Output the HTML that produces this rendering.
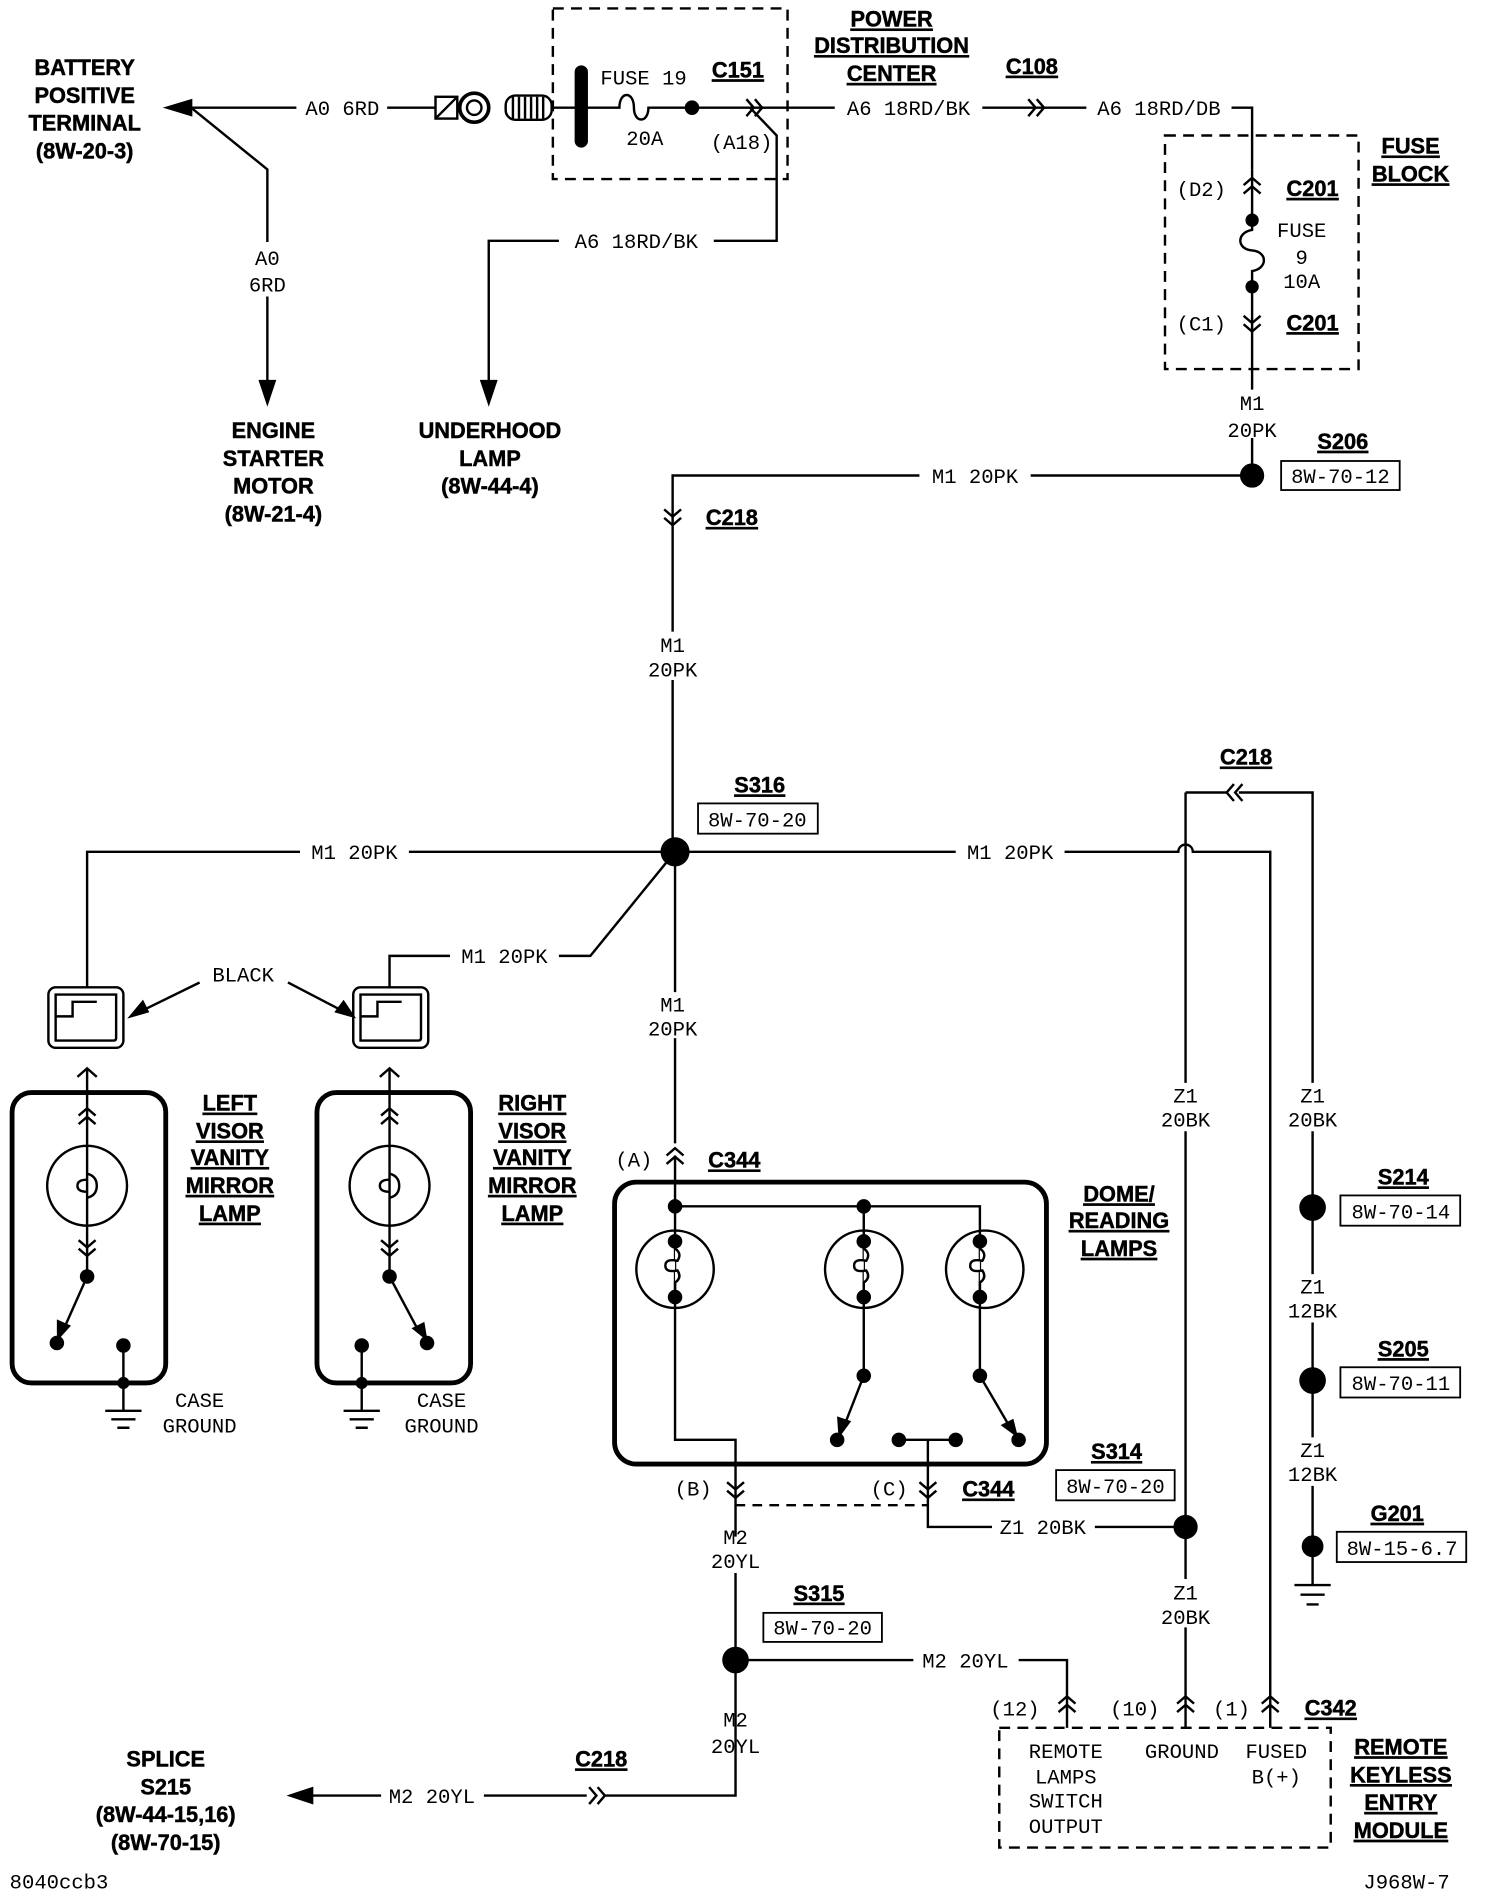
<!DOCTYPE html>
<html><head><meta charset="utf-8"><style>
html,body{margin:0;padding:0;background:#fff}
svg{display:block}
.t{font-family:"Liberation Mono",monospace;font-size:17px;fill:#000}
.b{font-family:"Liberation Sans",sans-serif;font-weight:bold;font-size:18px;fill:#000;text-decoration:underline;stroke:#000;stroke-width:0.4}
.bn{font-family:"Liberation Sans",sans-serif;font-weight:bold;font-size:18px;fill:#000;stroke:#000;stroke-width:0.4}
</style></head><body>
<svg width="1488" height="1896" viewBox="0 0 1230 1567" preserveAspectRatio="none" xmlns="http://www.w3.org/2000/svg">
<defs>
<path id="dn" d="M-7,-7 L0,-1 L7,-7 M-7,0 L0,6 L7,0" fill="none" stroke="#000" stroke-width="2"/>
<path id="up" d="M-7,7 L0,1 L7,7 M-7,0 L0,-6 L7,0" fill="none" stroke="#000" stroke-width="2"/>
<path id="rt" d="M-7,-7 L-1,0 L-7,7 M0,-7 L6,0 L0,7" fill="none" stroke="#000" stroke-width="2"/>
<path id="lt" d="M7,-7 L1,0 L7,7 M0,-7 L-6,0 L0,7" fill="none" stroke="#000" stroke-width="2"/>
</defs>
<g fill="none" stroke="#000" stroke-width="2">
<path d="M150,89 H245 M320,89 H360"/>
<polygon points="138,89 158,83 158,95" fill="#000"/>
<rect x="360" y="80" width="18" height="18"/>
<path d="M360,98 L378,80"/>
<circle cx="392" cy="89" r="12" stroke-width="3"/><circle cx="392" cy="89" r="6"/>
<rect x="418" y="79" width="38" height="20" rx="8"/>
<path d="M424,80V98 M429,80V98 M434,80V98 M439,80V98 M444,80V98 M449,80V98"/>
<path d="M456,89 H476"/>
<rect x="476" y="55" width="9" height="66" rx="4.5" fill="#000"/>
<path d="M485,89 H512 C512,75 524,75 524,89 C524,102 536,102 536,89 H690"/>
<circle cx="572" cy="89" r="5" fill="#000"/>
<use href="#rt" x="624" y="89"/>
<path d="M812,89 H898 M1018,89 H1035 V140"/>
<use href="#rt" x="857" y="89"/>
<rect x="457" y="7" width="194" height="141" stroke-dasharray="9,6"/>
<path d="M620,89 L642,112 V199 H590 M462,199 H404 V325"/>
<polygon points="404,333 398,315 410,315" fill="#000"/>
<path d="M158,89 L221,140 V200 M221,245 V325"/>
<polygon points="221,333 215,315 227,315" fill="#000"/>
<rect x="963" y="112" width="160" height="193" stroke-dasharray="9,6"/>
<path d="M1035,140 V190 C1022,192 1022,206 1035,207 C1048,208 1048,222 1035,224 V322 M1035,362 V393"/>
<use href="#up" x="1035" y="153"/>
<use href="#dn" x="1035" y="268"/>
<circle cx="1035" cy="182" r="4.5" fill="#000"/>
<circle cx="1035" cy="237" r="4.5" fill="#000"/>
<circle cx="1035" cy="393" r="9" fill="#000"/>
<rect x="1059" y="381" width="98" height="24" stroke-width="1.5"/>
<path d="M852,393 H1035 M760,393 H556 V522 M556,562 V704"/>
<use href="#dn" x="556" y="428"/>
<circle cx="558" cy="704" r="11" fill="#000"/>
<rect x="577" y="664" width="99" height="25" stroke-width="1.5"/>
<path d="M558,704 H338 M248,704 H72 V816"/>
<path d="M558,704 L488,790 H462 M372,790 H322 V816"/>
<path d="M558,704 H790 M880,704 H974 A6,6 0 0 1 986,704 H1050 V1400"/>
<path d="M558,704 V820 M558,858 V945"/>
<rect x="40" y="816" width="62" height="50" rx="6"/>
<path d="M46,822 H96 V858 Q96,860 94,860 H46 Z M46,840 H60 V828 H80"/>
<rect x="292" y="816" width="62" height="50" rx="6"/>
<path d="M298,822 H348 V858 Q348,860 346,860 H298 Z M298,840 H312 V828 H332"/>
<path d="M165,812 L112,838 M238,812 L288,838"/>
<polygon points="108,840 118,828 122,836" fill="#000"/>
<polygon points="292,840 278,836 284,828" fill="#000"/>
<rect x="10" y="903" width="127" height="240" rx="16" stroke-width="4"/>
<path d="M72,884 V1052"/>
<path d="M64,890 L72,883 L80,890"/>
<use href="#up" x="72" y="922"/>
<use href="#dn" x="72" y="1032"/>
<circle cx="72" cy="980" r="33"/>
<path d="M72,970 q8,2 8,10 q0,8 -8,10 M72,975 q-8,0 -8,5 q0,5 8,5" stroke-width="2"/>
<circle cx="72" cy="1055" r="5" fill="#000"/>
<path d="M72,1055 L52,1100"/><polygon points="48,1106 48,1092 57,1096" fill="#000"/>
<circle cx="47" cy="1110" r="5" fill="#000"/>
<circle cx="102" cy="1112" r="5" fill="#000"/>
<path d="M102,1112 V1166 M87,1166 H117 M92,1173 H112 M97,1180 H107"/>
<circle cx="102" cy="1143" r="4" fill="#000"/>
<rect x="262" y="903" width="127" height="240" rx="16" stroke-width="4"/>
<path d="M322,884 V1052"/>
<path d="M314,890 L322,883 L330,890"/>
<use href="#up" x="322" y="922"/>
<use href="#dn" x="322" y="1032"/>
<circle cx="322" cy="980" r="33"/>
<path d="M322,970 q8,2 8,10 q0,8 -8,10 M322,975 q-8,0 -8,5 q0,5 8,5"/>
<circle cx="322" cy="1055" r="5" fill="#000"/>
<path d="M322,1055 L346,1100"/><polygon points="352,1106 342,1098 350,1094" fill="#000"/>
<circle cx="353" cy="1110" r="5" fill="#000"/>
<circle cx="299" cy="1112" r="5" fill="#000"/>
<path d="M299,1112 V1166 M284,1166 H314 M289,1173 H309 M294,1180 H304"/>
<circle cx="299" cy="1143" r="4" fill="#000"/>
<use href="#up" x="558" y="955"/>
<rect x="508" y="977" width="357" height="233" rx="18" stroke-width="4"/>
<path d="M558,955 V1190 H608 V1270"/>
<path d="M558,997 H810 V1137"/>
<path d="M714,997 V1137"/>
<circle cx="558" cy="997" r="5" fill="#000"/><circle cx="714" cy="997" r="5" fill="#000"/>
<g>
<circle cx="558" cy="1049" r="32"/><circle cx="558" cy="1026" r="5" fill="#000"/><circle cx="558" cy="1072" r="5" fill="#000"/>
<path d="M558,1026 v6 q6,4 2,10 q-10,-2 -10,4 q0,6 10,4 q4,6 -2,10 v6" fill="#fff"/>
<circle cx="714" cy="1049" r="32"/><circle cx="714" cy="1026" r="5" fill="#000"/><circle cx="714" cy="1072" r="5" fill="#000"/>
<path d="M714,1026 v6 q6,4 2,10 q-10,-2 -10,4 q0,6 10,4 q4,6 -2,10 v6" fill="#fff"/>
<circle cx="814" cy="1049" r="32"/><circle cx="810" cy="1026" r="5" fill="#000"/><circle cx="810" cy="1072" r="5" fill="#000"/>
<path d="M810,1026 v6 q6,4 2,10 q-10,-2 -10,4 q0,6 10,4 q4,6 -2,10 v6" fill="#fff"/>
</g>
<circle cx="714" cy="1137" r="5" fill="#000"/><circle cx="810" cy="1137" r="5" fill="#000"/>
<path d="M714,1137 L698,1178"/><polygon points="694,1186 693,1172 702,1175" fill="#000"/>
<path d="M810,1137 L834,1178"/><polygon points="840,1186 829,1178 837,1174" fill="#000"/>
<circle cx="692" cy="1190" r="5" fill="#000"/><circle cx="842" cy="1190" r="5" fill="#000"/>
<circle cx="743" cy="1190" r="5" fill="#000"/><circle cx="790" cy="1190" r="5" fill="#000"/>
<path d="M743,1190 H790 M767,1190 V1262 H820 M905,1262 H980"/>
<use href="#dn" x="608" y="1232"/>
<use href="#dn" x="767" y="1232"/>
<path d="M608,1244 H767" stroke-dasharray="8,6"/>
<rect x="873" y="1215" width="98" height="25" stroke-width="1.5"/>
<circle cx="980" cy="1262" r="9" fill="#000"/>
<path d="M608,1300 V1484 H500 M485,1484 H400 M315,1484 H250"/>
<polygon points="240,1484 258,1478 258,1490" fill="#000"/>
<use href="#rt" x="494" y="1484"/>
<circle cx="608" cy="1372" r="10" fill="#000"/>
<rect x="631" y="1333" width="98" height="24" stroke-width="1.5"/>
<path d="M608,1372 H755 M842,1372 H882 V1428"/>
<path d="M980,655 H1015 M1024,655 H1085 V895 M1085,935 V1053 M1085,1093 V1188 M1085,1228 V1310"/>
<use href="#lt" x="1020" y="655"/>
<path d="M980,655 V895 M980,935 V1305 M980,1345 V1428"/>
<circle cx="1085" cy="998" r="10" fill="#000"/>
<circle cx="1085" cy="1141" r="10" fill="#000"/>
<circle cx="1085" cy="1278" r="8" fill="#000"/>
<path d="M1070,1310 H1100 M1075,1318 H1095 M1080,1326 H1090"/>
<rect x="1108" y="988" width="99" height="25" stroke-width="1.5"/>
<rect x="1108" y="1130" width="99" height="25" stroke-width="1.5"/>
<rect x="1105" y="1266" width="107" height="25" stroke-width="1.5"/>
<path d="M1050,1400 V1428"/>
<use href="#up" x="882" y="1408"/><use href="#up" x="980" y="1408"/><use href="#up" x="1050" y="1408"/>
<rect x="826" y="1428" width="274" height="99" stroke-dasharray="9,6"/>
</g>
<g class="bn" text-anchor="middle">
<text x="70" y="62">BATTERY</text><text x="70" y="85">POSITIVE</text><text x="70" y="108">TERMINAL</text><text x="70" y="131">(8W-20-3)</text>
<text x="226" y="362">ENGINE</text><text x="226" y="385">STARTER</text><text x="226" y="408">MOTOR</text><text x="226" y="431">(8W-21-4)</text>
<text x="405" y="362">UNDERHOOD</text><text x="405" y="385">LAMP</text><text x="405" y="408">(8W-44-4)</text>
<text x="137" y="1460">SPLICE</text><text x="137" y="1483">S215</text><text x="137" y="1506">(8W-44-15,16)</text><text x="137" y="1529">(8W-70-15)</text>
</g>
<g class="b" text-anchor="middle">
<text x="737" y="22">POWER</text><text x="737" y="44">DISTRIBUTION</text><text x="737" y="67">CENTER</text>
<text x="610" y="64">C151</text><text x="853" y="61">C108</text>
<text x="1166" y="127">FUSE</text><text x="1166" y="150">BLOCK</text>
<text x="1085" y="162">C201</text><text x="1085" y="273">C201</text>
<text x="1110" y="371">S206</text><text x="605" y="434">C218</text><text x="628" y="655">S316</text>
<text x="1030" y="632">C218</text>
<text x="190" y="918">LEFT</text><text x="190" y="941">VISOR</text><text x="190" y="963">VANITY</text><text x="190" y="986">MIRROR</text><text x="190" y="1009">LAMP</text>
<text x="440" y="918">RIGHT</text><text x="440" y="941">VISOR</text><text x="440" y="963">VANITY</text><text x="440" y="986">MIRROR</text><text x="440" y="1009">LAMP</text>
<text x="607" y="965">C344</text>
<text x="925" y="993">DOME/</text><text x="925" y="1015">READING</text><text x="925" y="1038">LAMPS</text>
<text x="1160" y="979">S214</text><text x="1160" y="1121">S205</text><text x="1155" y="1257">G201</text>
<text x="923" y="1206">S314</text><text x="817" y="1237">C344</text><text x="677" y="1323">S315</text>
<text x="497" y="1460">C218</text><text x="1100" y="1418">C342</text>
<text x="1158" y="1450">REMOTE</text><text x="1158" y="1473">KEYLESS</text><text x="1158" y="1496">ENTRY</text><text x="1158" y="1519">MODULE</text>
</g>
<g class="t" text-anchor="middle">
<text x="283" y="95">A0 6RD</text>
<text x="532" y="70">FUSE 19</text><text x="533" y="120">20A</text><text x="613" y="123">(A18)</text>
<text x="751" y="95">A6 18RD/BK</text><text x="958" y="95">A6 18RD/DB</text>
<text x="526" y="205">A6 18RD/BK</text>
<text x="221" y="219">A0</text><text x="221" y="241">6RD</text>
<text x="993" y="162">(D2)</text><text x="993" y="273">(C1)</text>
<text x="1076" y="196">FUSE</text><text x="1076" y="218">9</text><text x="1076" y="238">10A</text>
<text x="1035" y="339">M1</text><text x="1035" y="361">20PK</text>
<text x="806" y="399">M1 20PK</text>
<text x="556" y="539">M1</text><text x="556" y="559">20PK</text>
<text x="1108" y="399">8W-70-12</text><text x="626" y="683">8W-70-20</text>
<text x="293" y="710">M1 20PK</text><text x="835" y="710">M1 20PK</text><text x="417" y="796">M1 20PK</text>
<text x="201" y="811">BLACK</text>
<text x="556" y="836">M1</text><text x="556" y="856">20PK</text>
<text x="980" y="911">Z1</text><text x="980" y="931">20BK</text>
<text x="1085" y="911">Z1</text><text x="1085" y="931">20BK</text>
<text x="1085" y="1069">Z1</text><text x="1085" y="1089">12BK</text>
<text x="1085" y="1204">Z1</text><text x="1085" y="1224">12BK</text>
<text x="1158" y="1007">8W-70-14</text><text x="1158" y="1149">8W-70-11</text><text x="1159" y="1285">8W-15-6.7</text>
<text x="165" y="1163">CASE</text><text x="165" y="1184">GROUND</text>
<text x="365" y="1163">CASE</text><text x="365" y="1184">GROUND</text>
<text x="524" y="964">(A)</text><text x="573" y="1236">(B)</text><text x="735" y="1236">(C)</text>
<text x="922" y="1234">8W-70-20</text><text x="862" y="1268">Z1 20BK</text>
<text x="608" y="1276">M2</text><text x="608" y="1296">20YL</text>
<text x="680" y="1351">8W-70-20</text>
<text x="980" y="1322">Z1</text><text x="980" y="1342">20BK</text>
<text x="798" y="1378">M2 20YL</text>
<text x="608" y="1427">M2</text><text x="608" y="1449">20YL</text>
<text x="357" y="1490">M2 20YL</text>
<text x="839" y="1418">(12)</text><text x="938" y="1418">(10)</text><text x="1018" y="1418">(1)</text>
<text x="881" y="1453">REMOTE</text><text x="881" y="1474">LAMPS</text><text x="881" y="1494">SWITCH</text><text x="881" y="1515">OUTPUT</text>
<text x="977" y="1453">GROUND</text><text x="1055" y="1453">FUSED</text><text x="1055" y="1474">B(+)</text>
</g>
<text class="t" x="8" y="1561">8040ccb3</text>
<text class="t" x="1127" y="1561">J968W-7</text>
</svg>
</body></html>
